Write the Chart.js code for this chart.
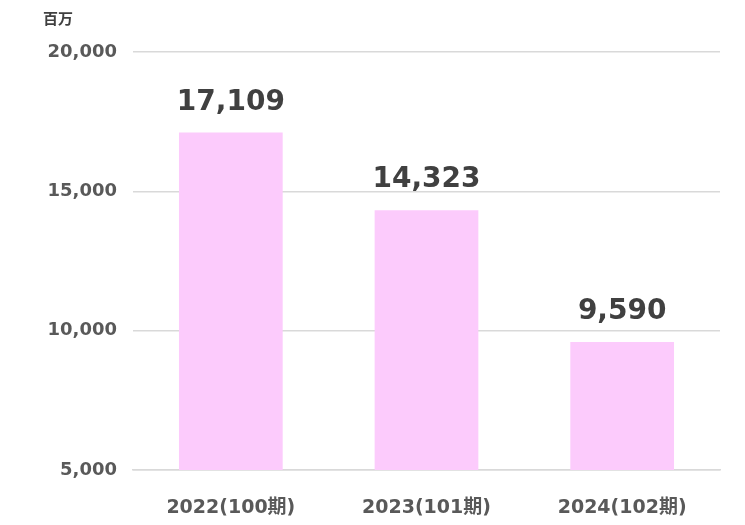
<!DOCTYPE html>
<html lang="ja">
<head>
  <meta charset="UTF-8">
  <title>百万</title>
  <script src="https://cdn.jsdelivr.net/npm/chart.js"></script>
  <style>
    html, body { margin: 0; padding: 0; background: #fff; }
    #wrap { width: 745px; height: 525px; }
  </style>
</head>
<body>
  <div id="wrap"><canvas id="chart"></canvas></div>
  <script>
    const categories = ['2022(100期)', '2023(101期)', '2024(102期)'];
    const values = [17109, 14323, 9590];
    const unitLabel = '百万';
    const yMin = 5000, yMax = 20000, yStep = 5000;

    const fontFamily = '"DejaVu Sans", "Noto Sans CJK JP", sans-serif';

    // numbers above the bars + the unit in the top left corner
    const labelPlugin = {
      id: 'labels',
      afterDatasetsDraw(chart) {
        const ctx = chart.ctx;
        const meta = chart.getDatasetMeta(0);
        ctx.save();
        ctx.fillStyle = '#404040';
        ctx.font = 'bold 28px ' + fontFamily;
        ctx.textAlign = 'center';
        ctx.textBaseline = 'bottom';
        meta.data.forEach((bar, i) => {
          ctx.fillText(values[i].toLocaleString('en-US'), bar.x, bar.y - 16);
        });
        ctx.font = 'bold 15px ' + fontFamily;
        ctx.textAlign = 'left';
        ctx.textBaseline = 'middle';
        ctx.fillText(unitLabel, 43, 20);
        ctx.restore();
      }
    };

    new Chart(document.getElementById('chart'), {
      type: 'bar',
      data: {
        labels: categories,
        datasets: [{
          data: values,
          backgroundColor: '#fccbfc',
          categoryPercentage: 1,
          barPercentage: 0.53
        }]
      },
      options: {
        responsive: true,
        maintainAspectRatio: false,
        animation: false,
        layout: { padding: { top: 52, right: 25, left: 0, bottom: 0 } },
        plugins: { legend: { display: false }, tooltip: { enabled: false } },
        scales: {
          x: {
            grid: { display: false },
            border: { color: '#d9d9d9', width: 1.5 },
            ticks: { color: '#595959', font: { family: fontFamily, size: 19, weight: 'bold' }, padding: 19 },
            afterFit: s => { s.height = 55; }
          },
          y: {
            min: yMin,
            max: yMax,
            border: { display: false },
            grid: { color: '#d9d9d9', lineWidth: 1.5, drawTicks: false },
            ticks: {
              stepSize: yStep,
              color: '#595959',
              padding: 16,
              font: { family: fontFamily, size: 18, weight: 'bold' },
              callback: v => v.toLocaleString('en-US')
            },
            afterFit: s => { s.width = 133; }
          }
        }
      },
      plugins: [labelPlugin]
    });
  </script>
</body>
</html>
